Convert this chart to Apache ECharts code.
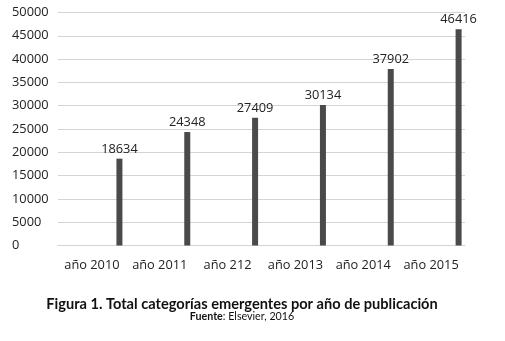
<!DOCTYPE html>
<html>
<head>
<meta charset="utf-8">
<script src="https://cdn.jsdelivr.net/npm/echarts@6/dist/echarts.min.js"></script>
<style>
  html, body { margin: 0; padding: 0; background: #fff; }
  #chart { width: 505px; height: 341px; }
</style>
</head>
<body>
<div id="chart"></div>
<script>
const years = ['año 2010', 'año 2011', 'año 212', 'año 2013', 'año 2014', 'año 2015']
const totals = [18634, 24348, 27409, 30134, 37902, 46416]
const yTicks = { min: 0, max: 50000, interval: 5000 }

const chart = echarts.init(document.getElementById('chart'))
const font = '"Open Sans", sans-serif'

chart.setOption({
  animation: false,
  grid: { left: 58, right: 40, top: 12.5, bottom: 95.5 },
  xAxis: {
    type: 'category',
    data: years,
    axisTick: { show: false },
    axisLine: { lineStyle: { color: '#d4d4d4', width: 1 } },
    axisLabel: { color: '#222', fontFamily: font, fontSize: 12.8, margin: 13, interval: 0 }
  },
  yAxis: {
    type: 'value',
    min: yTicks.min,
    max: yTicks.max,
    interval: yTicks.interval,
    axisLine: { show: false },
    axisTick: { show: false },
    splitLine: { lineStyle: { color: '#d4d4d4', width: 1 } },
    axisLabel: {
      color: '#222', fontFamily: font, fontSize: 12.8, align: 'left', margin: 46,
      formatter: v => String(v)
    }
  },
  series: [
    // empty slot, Excel-style: pushes the real bar to the right of each category
    { type: 'bar', data: [], barWidth: 6 },
    {
      type: 'bar',
      data: totals,
      barWidth: 6,
      barGap: '817%',
      itemStyle: { color: '#4a4a4a' },
      label: {
        show: true,
        position: 'top',
        distance: 3,
        color: '#222',
        fontFamily: font,
        fontSize: 12.8
      }
    }
  ],
  graphic: [
    {
      type: 'text',
      x: 242,
      y: 304,
      style: {
        text: 'Figura 1. Total categorías emergentes por año de publicación',
        font: 'bold 14.6px Lato, sans-serif',
        fill: '#111',
        align: 'center',
        verticalAlign: 'middle'
      }
    },
    {
      type: 'text',
      x: 242,
      y: 317,
      style: {
        text: '{b|Fuente}: Elsevier, 2016',
        font: '10.7px Lato, sans-serif',
        fill: '#111',
        align: 'center',
        verticalAlign: 'middle',
        rich: {
          b: { fontWeight: 'bold', fontFamily: 'Lato, sans-serif', fontSize: 10.7, fill: '#111' }
        }
      }
    }
  ]
})
</script>
</body>
</html>
